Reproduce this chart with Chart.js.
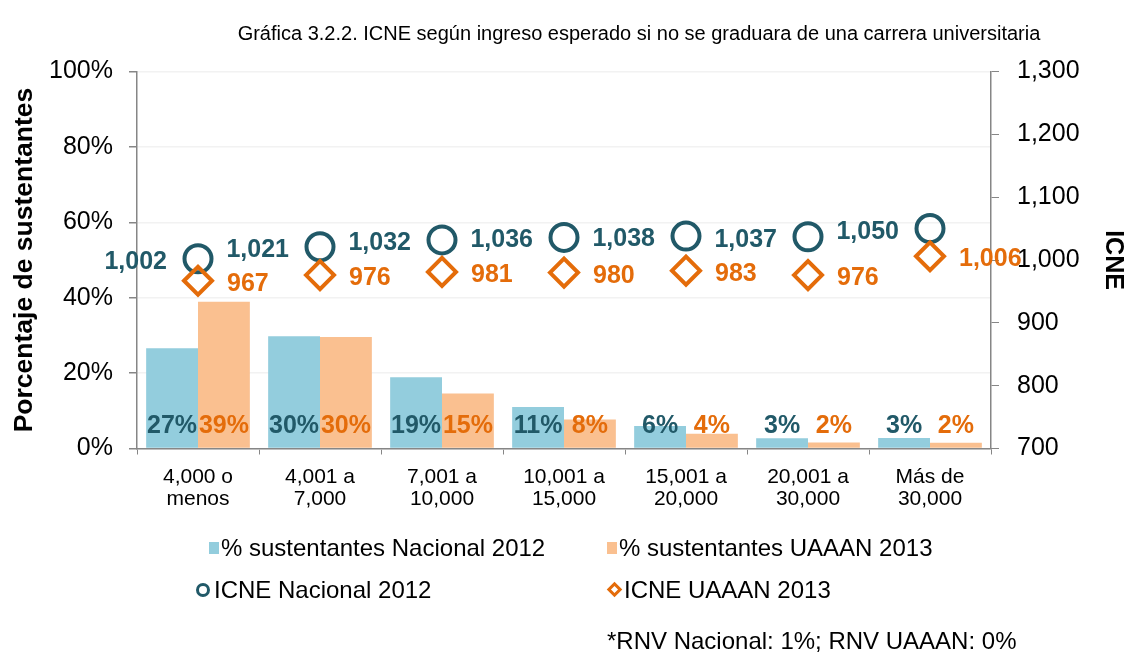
<!DOCTYPE html>
<html>
<head>
<meta charset="utf-8">
<script src="https://cdn.jsdelivr.net/npm/chart.js@4"></script>
<style>
  html, body { margin: 0; padding: 0; background: #fff; overflow: hidden; }
  #wrap { position: relative; width: 1128px; height: 653px; font-family: "Liberation Sans", Arial, sans-serif; }
  #wrap canvas { position: absolute; left: 0; top: 0; }
  .txt { position: absolute; white-space: nowrap; color: #000; }
  .title { left: 0; width: 1278px; top: 22px; text-align: center; font-size: 20px; }
  .leg { font-size: 24px; line-height: 26px; }
  .sq { position: absolute; width: 10px; height: 12px; }
  .circ { position: absolute; width: 8px; height: 8px; border: 3.5px solid #215968; border-radius: 50%; }
  .diam { position: absolute; width: 5px; height: 5px; border: 3.2px solid #e46c0a; transform: rotate(45deg); }
</style>
</head>
<body>
<div id="wrap">
  <canvas id="chart" width="1128" height="653"></canvas>
  <div class="txt title">Gráfica 3.2.2. ICNE según ingreso esperado si no se graduara de una carrera universitaria</div>

  <div class="sq" style="left:209px; top:542px; background:#93cddd;"></div>
  <div class="txt leg" style="left:221px; top:535px;">% sustentantes Nacional 2012</div>
  <div class="sq" style="left:607px; top:542px; background:#fac090;"></div>
  <div class="txt leg" style="left:619px; top:535px;">% sustentantes UAAAN 2013</div>

  <div class="circ" style="left:196px; top:583px;"></div>
  <div class="txt leg" style="left:214px; top:577px;">ICNE Nacional 2012</div>
  <div class="diam" style="left:609px; top:584px;"></div>
  <div class="txt leg" style="left:624px; top:577px;">ICNE UAAAN 2013</div>

  <div class="txt leg" style="left:607px; top:628px;">*RNV Nacional: 1%; RNV UAAAN: 0%</div>
</div>
<script>
// categories (ingreso esperado)
var categories = [
  ['4,000 o', 'menos'],
  ['4,001 a', '7,000'],
  ['7,001 a', '10,000'],
  ['10,001 a', '15,000'],
  ['15,001 a', '20,000'],
  ['20,001 a', '30,000'],
  ['Más de', '30,000']
];

// % sustentantes
var pctNacional = [26.6, 29.8, 18.9, 11.0, 6.0, 2.7, 2.8];
var pctUaaan    = [38.9, 29.6, 14.6, 7.7, 3.9, 1.6, 1.5];

// ICNE
var icneNacional = [1002, 1021, 1032, 1036, 1038, 1037, 1050];
var icneUaaan    = [967, 976, 981, 980, 983, 976, 1006];

var TEAL = '#215968';
var ORANGE = '#e46c0a';
var AXIS = '#868686';
var FONT = '"Liberation Sans", Arial, sans-serif';

function fmt(v) {
  return v.toLocaleString('en-US');
}

// value labels drawn on top of bars and markers
var valueLabels = {
  id: 'valueLabels',
  afterDatasetsDraw: function (chart) {
    var ctx = chart.ctx;
    var yZero = chart.scales.y.getPixelForValue(0);
    ctx.save();
    ctx.font = 'bold 25px ' + FONT;
    ctx.textBaseline = 'alphabetic';
    chart.data.datasets.forEach(function (ds, i) {
      var meta = chart.getDatasetMeta(i);
      meta.data.forEach(function (el, j) {
        var v = ds.data[j];
        ctx.fillStyle = ds.labelColor;
        if (ds.type === 'bar') {
          ctx.textAlign = 'center';
          ctx.fillText(Math.round(v) + '%', el.x, yZero - 16);
        } else if (ds.labelSide === 'left') {
          ctx.textAlign = 'right';
          ctx.fillText(fmt(v), el.x - 31, el.y + 10);
        } else {
          ctx.textAlign = 'left';
          ctx.fillText(fmt(v), el.x + 29, el.y + 10);
        }
      });
    });
    ctx.restore();
  }
};

var ctx = document.getElementById('chart').getContext('2d');
new Chart(ctx, {
  data: {
    labels: categories,
    datasets: [
      {
        type: 'bar',
        label: '% sustentantes Nacional 2012',
        data: pctNacional,
        backgroundColor: '#93cddd',
        labelColor: TEAL,
        yAxisID: 'y',
        order: 2
      },
      {
        type: 'bar',
        label: '% sustentantes UAAAN 2013',
        data: pctUaaan,
        backgroundColor: '#fac090',
        labelColor: ORANGE,
        yAxisID: 'y',
        order: 2
      },
      {
        type: 'line',
        label: 'ICNE Nacional 2012',
        data: icneNacional,
        showLine: false,
        pointStyle: 'circle',
        pointRadius: 13.5,
        pointHoverRadius: 13.5,
        pointBorderWidth: 4,
        pointBorderColor: TEAL,
        pointBackgroundColor: 'rgba(0,0,0,0)',
        labelColor: TEAL,
        labelSide: 'left',
        yAxisID: 'y1',
        order: 1
      },
      {
        type: 'line',
        label: 'ICNE UAAAN 2013',
        data: icneUaaan,
        showLine: false,
        pointStyle: 'rectRot',
        pointRadius: 14,
        pointHoverRadius: 14,
        pointBorderWidth: 4,
        pointBorderColor: ORANGE,
        pointBackgroundColor: 'rgba(0,0,0,0)',
        labelColor: ORANGE,
        labelSide: 'right',
        yAxisID: 'y1',
        order: 0
      }
    ]
  },
  options: {
    responsive: false,
    animation: false,
    devicePixelRatio: 1,
    layout: { padding: { top: 71.5, bottom: 0, left: 0, right: 0 } },
    datasets: {
      bar: { categoryPercentage: 0.85, barPercentage: 1.0 }
    },
    plugins: {
      legend: { display: false },
      tooltip: { enabled: false }
    },
    scales: {
      x: {
        offset: true,
        grid: {
          display: true,
          drawOnChartArea: false,
          offset: true,
          tickLength: 6,
          tickColor: AXIS
        },
        border: { color: AXIS, width: 1.5 },
        ticks: {
          color: '#000',
          font: { family: FONT, size: 21, lineHeight: 1.07 },
          padding: 11,
          maxRotation: 0,
          autoSkip: false
        },
        afterFit: function (scale) { scale.height = 204.5; }
      },
      y: {
        position: 'left',
        min: 0,
        max: 100,
        ticks: {
          stepSize: 20,
          color: '#000',
          font: { family: FONT, size: 25 },
          padding: 16,
          callback: function (v) { return v + '%'; }
        },
        grid: { color: '#f2f2f2', lineWidth: 1.5, tickLength: 8, tickColor: AXIS },
        border: { color: AXIS, width: 1.5 },
        title: {
          display: true,
          text: 'Porcentaje de sustentantes',
          color: '#000',
          font: { family: FONT, size: 26.5, weight: 'bold' },
          padding: { top: 9, bottom: 0 }
        },
        afterFit: function (scale) { scale.width = 137; }
      },
      y1: {
        position: 'right',
        min: 700,
        max: 1300,
        ticks: {
          stepSize: 100,
          color: '#000',
          font: { family: FONT, size: 25 },
          padding: 18,
          callback: function (v) { return fmt(v); }
        },
        grid: { drawOnChartArea: false, tickLength: 8, tickColor: AXIS },
        border: { color: AXIS, width: 1.5 },
        title: {
          display: true,
          text: 'ICNE',
          color: '#000',
          font: { family: FONT, size: 25, weight: 'bold' },
          padding: 0
        },
        afterFit: function (scale) { scale.width = 137; }
      }
    }
  },
  plugins: [valueLabels]
});
</script>
</body>
</html>
